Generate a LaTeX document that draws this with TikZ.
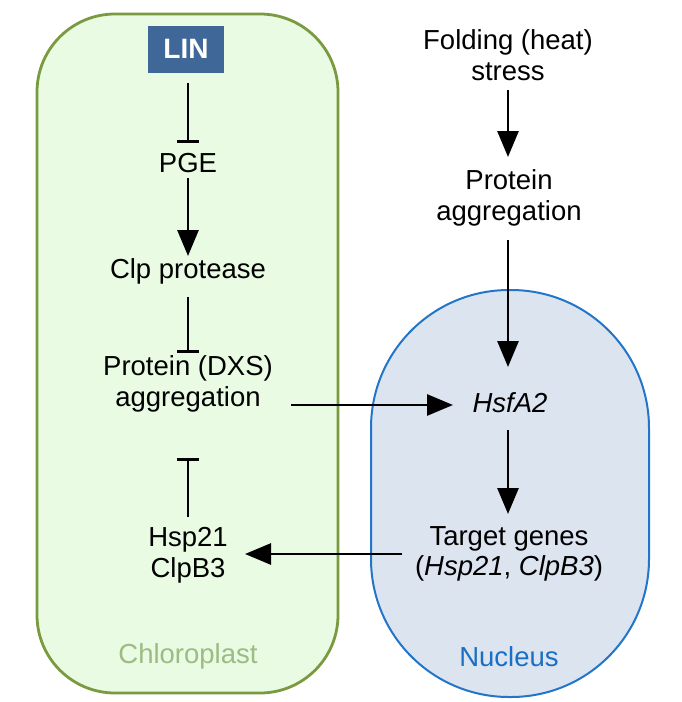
\documentclass[tikz,border=0pt]{standalone}
\usepackage{fontspec}
\setmainfont{Liberation Sans}
\usetikzlibrary{arrows.meta}
\definecolor{chlfill}{HTML}{E9FBE3}
\definecolor{chldraw}{HTML}{7A9A40}
\definecolor{chltext}{HTML}{9DBB82}
\definecolor{nucfill}{HTML}{DCE4F0}
\definecolor{nucdraw}{HTML}{2275C8}
\definecolor{nuctext}{HTML}{1A6FC4}
\definecolor{linfill}{HTML}{3F6898}
\begin{document}
\begin{tikzpicture}[x=1pt,y=-1pt,
  lbl/.style={align=center,font=\fontsize{27.5}{30.5}\selectfont,inner sep=2pt},
  act/.style={line width=2.8pt,-{Triangle[length=26pt,width=21pt]}},
  inh/.style={line width=2.8pt,-{Bar[width=22pt,line width=2.8pt]}}]
\useasboundingbox (0,0) rectangle (682,702);
% compartments
\draw[fill=chlfill,draw=chldraw,line width=2.8pt,rounded corners=78pt] (37,14) rectangle (338,693);
\draw[fill=nucfill,draw=nucdraw,line width=2pt,rounded corners=138pt] (371,290) rectangle (649,697);
% nodes
\node[fill=linfill,text=white,font=\fontsize{28}{30}\selectfont\bfseries,minimum width=76pt,minimum height=47pt,inner sep=0pt] (lin) at (186,49) {LIN};
\node[lbl] (pge) at (188,163) {PGE};
\node[lbl] (clp) at (188,271) {Clp protease};
\node[lbl] (dxs) at (188,384) {Protein (DXS)\\aggregation};
\node[lbl] (hsp) at (188,555) {Hsp21\\ClpB3};
\node[lbl,text=chltext] (chl) at (188,656) {Chloroplast};
\node[lbl] (fold) at (508,55) {Folding (heat)\\stress};
\node[lbl] (pagg) at (509,198) {Protein\\aggregation};
\node[lbl] (hsf) at (510,403) {\itshape HsfA2};
\node[lbl] (tgt) at (509,554) {Target genes\\(\itshape Hsp21\upshape, \itshape ClpB3\upshape)};
\node[lbl,text=nuctext] (nuc) at (509,657) {Nucleus};
% anchors for connector ends
\coordinate (a1) at (188,83);  \coordinate (b1) at (188,143);
\coordinate (a2) at (188,178); \coordinate (b2) at (188,256);
\coordinate (a3) at (188,297); \coordinate (b3) at (188,353);
\coordinate (a4) at (188,517); \coordinate (b4) at (188,458);
\coordinate (a5) at (508,90);  \coordinate (b5) at (508,157);
\coordinate (a6) at (508,240); \coordinate (b6) at (508,367);
\coordinate (a7) at (508,430); \coordinate (b7) at (508,514);
\coordinate (a8) at (291,405); \coordinate (b8) at (453,405);
\coordinate (a9) at (402,554); \coordinate (b9) at (245,554);
% connectors
\draw[inh] (a1) -- (b1);
\draw[act] (a2) -- (b2);
\draw[inh] (a3) -- (b3);
\draw[inh] (a4) -- (b4);
\draw[act] (a5) -- (b5);
\draw[act] (a6) -- (b6);
\draw[act] (a7) -- (b7);
\draw[act] (a8) -- (b8);
\draw[act] (a9) -- (b9);
\end{tikzpicture}
\end{document}
